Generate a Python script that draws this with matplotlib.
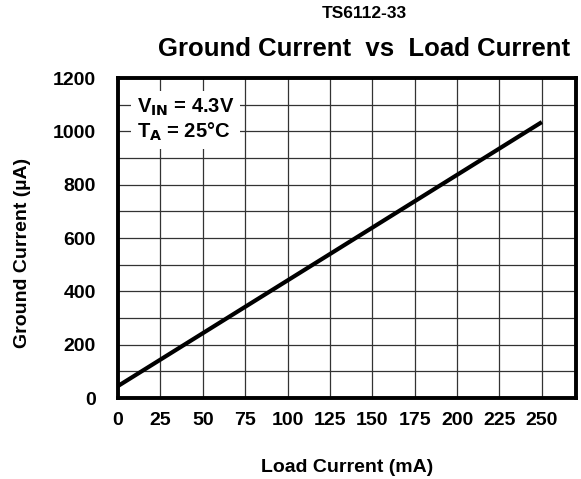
import numpy as np
import matplotlib
matplotlib.use("Agg")
import matplotlib.pyplot as plt

plt.rcParams["font.family"] = ["Liberation Sans", "DejaVu Sans"]
plt.rcParams["font.weight"] = "bold"

# data
load_ma = [0, 50, 100, 150, 200, 250]
ground_ua = [45, 243, 441, 639, 837, 1035]

x_ticks = [0, 25, 50, 75, 100, 125, 150, 175, 200, 225, 250]
y_ticks = [0, 200, 400, 600, 800, 1000, 1200]
y_grid = np.arange(0, 1201, 100)

fig = plt.figure(figsize=(5.81, 4.79), dpi=100)
ax = fig.add_axes([0.203, 0.169, 0.788, 0.668])

ax.set_xlim(0, 270)
ax.set_ylim(0, 1200)
ax.set_xticks(x_ticks)
ax.set_yticks(y_ticks)
ax.set_yticks(y_grid, minor=True)
ax.tick_params(which="both", length=0)
ax.tick_params(axis="x", pad=10, labelsize=14)
ax.tick_params(axis="y", pad=16, labelsize=14)
for lab in ax.get_xticklabels() + ax.get_yticklabels():
    lab.set_fontweight("bold")

ax.grid(True, which="both", color="#333333", linewidth=0.9)
ax.set_axisbelow(True)
for sp in ax.spines.values():
    sp.set_linewidth(2.8)

ax.plot(load_ma, ground_ua, color="black", linewidth=3, solid_capstyle="butt")

ax.text(11, 1132, r"V$_{\mathbf{IN}}$ = 4.3V" + "\n" + r"T$_{\mathbf{A}}$ = 25°C",
        fontsize=14.5, fontweight="bold", va="top", ha="left", linespacing=1.2,
        bbox=dict(facecolor="white", edgecolor="none", pad=4), zorder=3)

ax.set_xlabel("Load Current (mA)", fontsize=14, fontweight="bold", labelpad=22)
ax.set_ylabel("Ground Current (µA)", fontsize=14, fontweight="bold")
ax.yaxis.set_label_coords(-0.19, 0.455)

fig.text(0.627, 0.971, "TS6112-33", fontsize=12.5, fontweight="bold", ha="center", va="center")
fig.text(0.627, 0.897, "Ground Current  vs  Load Current", fontsize=18.5,
         fontweight="bold", ha="center", va="center")

fig.savefig("out.png", dpi=100)
